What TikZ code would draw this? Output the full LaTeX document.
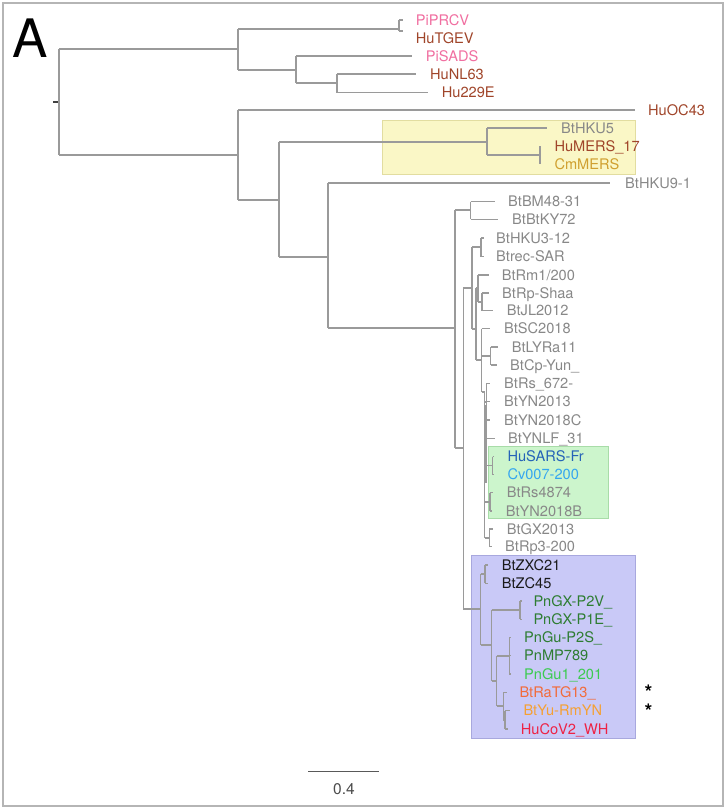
\documentclass[tikz,border=0pt]{standalone}
\usepackage{fontspec}
\setmainfont{TeX Gyre Heros}
\definecolor{brc}{HTML}{9A9A9A}
\definecolor{framec}{HTML}{B5B5B5}
\definecolor{cpink}{HTML}{F06EA0}
\definecolor{cbrown}{HTML}{A0452A}
\definecolor{cgold}{HTML}{D0A030}
\definecolor{cgray}{HTML}{888888}
\definecolor{cblue}{HTML}{2563B8}
\definecolor{clblue}{HTML}{35A6F0}
\definecolor{cblack}{HTML}{1A1A1A}
\definecolor{cdgreen}{HTML}{2E7D32}
\definecolor{clgreen}{HTML}{3CCB50}
\definecolor{corred}{HTML}{F26B3A}
\definecolor{corange}{HTML}{F5A033}
\definecolor{cred}{HTML}{EE2244}
\definecolor{yfill}{HTML}{FAF7C6}
\definecolor{ydraw}{HTML}{E2DDA0}
\definecolor{gfill}{HTML}{CCF5CC}
\definecolor{gdraw}{HTML}{A8DCA8}
\definecolor{bfill}{HTML}{C9C9F7}
\definecolor{bdraw}{HTML}{A8A8DE}
\newcommand\hbr[3]{\draw[br] (#1,#3) -- (#2,#3);}
\newcommand\vbr[3]{\draw[br] (#1,#2) -- (#1,#3);}
\newcommand\leaf[5]{\node[lab,text=#4] (#5) at (#1,#2+5.2) {#3};}
\begin{document}
\begin{tikzpicture}[x=1pt,y=-1pt,
  br/.style={draw=brc, line width=1.3pt},
  lab/.style={anchor=base west, inner sep=0pt, font=\fontsize{14.6}{16}\selectfont},
  hlbox/.style={line width=0.8pt},
  star/.style={inner sep=0pt, font=\fontsize{20}{20}\selectfont\bfseries},
]
\useasboundingbox (0,0) rectangle (726,812);
\draw[framec, line width=1.5pt] (3,3) rectangle (723,806);
\node[anchor=base west, inner sep=0pt, font=\fontsize{53}{60}\selectfont] (panelA) at (12,57) {A};
% highlight boxes
\draw[hlbox, fill=yfill, draw=ydraw] (382.7,120) rectangle (635,174);
\draw[hlbox, fill=gfill, draw=gdraw] (488.3,446.7) rectangle (608,518.3);
\draw[hlbox, fill=bfill, draw=bdraw] (471,555) rectangle (635,738.3);
% root
\draw[draw=black!75, line width=1.3pt] (53,102) -- (59,102);
\vbr{59}{49}{155}
\hbr{59}{238}{49}
\vbr{238}{29}{70}
\hbr{238}{399}{29}
\vbr{399}{20}{31}
\hbr{399}{403}{20}
\hbr{399}{403}{31}
\hbr{238}{296}{70}
\vbr{296}{56}{83}
\hbr{296}{412}{56}
\hbr{296}{337}{83}
\vbr{337}{74}{92.7}
\hbr{337}{416}{74}
\hbr{337}{428}{92.7}
\hbr{59}{238}{155}
\vbr{238}{110}{200}
\hbr{238}{635}{110}
\hbr{238}{279}{200}
\vbr{279}{142}{257}
\hbr{279}{487}{142}
\vbr{487}{128}{155}
\hbr{487}{547}{128}
\hbr{487}{540}{155}
\vbr{540}{146}{164}
\hbr{279}{328}{257}
\vbr{328}{183}{328}
\hbr{328}{610}{183}
\hbr{328}{455}{328}
\vbr{455}{210}{448}
\hbr{455}{470.7}{210}
\vbr{470.7}{201.7}{219.3}
\hbr{470.7}{495}{201.7}
\hbr{470.7}{498}{219.3}
\hbr{455}{463.3}{448}
\vbr{463.3}{288}{609}
\hbr{463.3}{472}{288}
\vbr{472}{247}{329}
\hbr{472}{481}{247}
\vbr{481}{238}{256.7}
\hbr{481}{484}{238}
\hbr{481}{484}{256.7}
\hbr{472}{476}{329}
\vbr{476}{288}{360}
\hbr{476}{478}{288}
\vbr{478}{275}{302}
\hbr{478}{489}{275}
\hbr{478}{482}{302}
\vbr{482}{293}{310.7}
\hbr{482}{489}{293}
\hbr{482}{493}{310.7}
\hbr{476}{481.7}{360}
\vbr{481.7}{328.5}{392}
\hbr{481.7}{490}{328.5}
\hbr{481.7}{490.7}{356}
\vbr{490.7}{347}{365}
\hbr{490.7}{498}{347}
\hbr{490.7}{497}{365}
\hbr{481.7}{484.5}{392}
\vbr{484.5}{392}{538}
\draw[br, line width=2.6pt] (485.6,405) -- (485.6,483);
\hbr{484.5}{486.7}{402}
\vbr{486.7}{383.3}{420}
\hbr{486.7}{490}{383.3}
\hbr{486.7}{490}{401.7}
\hbr{486.7}{490}{420}
\hbr{484.5}{495}{438.3}
\hbr{484.5}{492.5}{465.6}
\vbr{492.5}{456.7}{474.5}
\hbr{492.5}{494}{456.7}
\hbr{492.5}{494}{474.5}
\hbr{484.5}{490}{502}
\vbr{490}{492.7}{511}
\hbr{490}{493}{492.7}
\hbr{490}{492}{511}
\hbr{484.5}{489.3}{538}
\vbr{489.3}{529}{546.7}
\hbr{489.3}{493}{529}
\hbr{489.3}{492}{546.7}
% SARS-CoV-2 clade
\hbr{463.3}{480.7}{609}
\vbr{480.7}{574}{645}
\hbr{480.7}{485}{574}
\vbr{485}{565}{583.3}
\hbr{485}{488}{565}
\hbr{485}{488}{583.3}
\hbr{480.7}{491.7}{645}
\vbr{491.7}{610}{681}
\hbr{491.7}{520}{610}
\vbr{520}{601}{619.3}
\hbr{520}{521.5}{601}
\hbr{520}{521.5}{619.3}
\hbr{491.7}{496.7}{681}
\vbr{496.7}{656}{706}
\hbr{496.7}{509.3}{656}
\vbr{509.3}{637.5}{674}
\hbr{509.3}{511}{637.5}
\hbr{509.3}{511}{655.7}
\hbr{509.3}{511}{674}
\hbr{496.7}{503.3}{706}
\vbr{503.3}{692.3}{720}
\hbr{503.3}{507}{692.3}
\hbr{503.3}{505}{720}
\vbr{505}{710.7}{729}
\hbr{505}{510}{710.7}
\hbr{505}{508}{729}
% labels
\leaf{415.7}{20}{PiPRCV}{cpink}{l1}
\leaf{415.7}{38}{HuTGEV}{cbrown}{l2}
\leaf{425.7}{56}{PiSADS}{cpink}{l3}
\leaf{430}{74}{HuNL63}{cbrown}{l4}
\leaf{441.7}{92.7}{Hu229E}{cbrown}{l5}
\leaf{648}{110}{HuOC43}{cbrown}{l6}
\leaf{561}{128}{BtHKU5}{cgray}{l7}
\leaf{554.3}{146}{HuMERS\_17}{cbrown}{l8}
\leaf{554.3}{164}{CmMERS}{cgold}{l9}
\leaf{625}{183}{BtHKU9-1}{cgray}{l10}
\leaf{508}{201.7}{BtBM48-31}{cgray}{l11}
\leaf{512}{219.3}{BtBtKY72}{cgray}{l12}
\leaf{496}{238}{BtHKU3-12}{cgray}{l13}
\leaf{496}{256.7}{Btrec-SAR}{cgray}{l14}
\leaf{501.7}{275}{BtRm1/200}{cgray}{l15}
\leaf{502}{293}{BtRp-Shaa}{cgray}{l16}
\leaf{506.7}{310.7}{BtJL2012}{cgray}{l17}
\leaf{504}{328.5}{BtSC2018}{cgray}{l18}
\leaf{511.7}{347}{BtLYRa11}{cgray}{l19}
\leaf{510}{365}{BtCp-Yun\_}{cgray}{l20}
\leaf{504}{383.3}{BtRs\_672-}{cgray}{l21}
\leaf{504}{401.7}{BtYN2013}{cgray}{l22}
\leaf{504}{420}{BtYN2018C}{cgray}{l23}
\leaf{508}{438.3}{BtYNLF\_31}{cgray}{l24}
\leaf{507.3}{456.7}{HuSARS-Fr}{cblue}{l25}
\leaf{507.3}{474.5}{Cv007-200}{clblue}{l26}
\leaf{506.7}{492.7}{BtRs4874}{cgray}{l27}
\leaf{505.7}{511}{BtYN2018B}{cgray}{l28}
\leaf{506.7}{529}{BtGX2013}{cgray}{l29}
\leaf{505}{546.7}{BtRp3-200}{cgray}{l30}
\leaf{501.7}{565}{BtZXC21}{cblack}{l31}
\leaf{501.7}{583.3}{BtZC45}{cblack}{l32}
\leaf{533.3}{601}{PnGX-P2V\_}{cdgreen}{l33}
\leaf{533.3}{619.3}{PnGX-P1E\_}{cdgreen}{l34}
\leaf{524}{637.5}{PnGu-P2S\_}{cdgreen}{l35}
\leaf{524}{655.7}{PnMP789}{cdgreen}{l36}
\leaf{524}{674}{PnGu1\_201}{clgreen}{l37}
\leaf{519.3}{692.3}{BtRaTG13\_}{corred}{l38}
\leaf{523.3}{710.7}{BtYu-RmYN}{corange}{l39}
\leaf{520.7}{729}{HuCoV2\_WH}{cred}{l40}
% asterisks
\node[star] (st1) at (648.5,692.3) {*};
\node[star] (st2) at (648.5,711) {*};
% scale bar
\coordinate (sbL) at (308.3,771.7);
\coordinate (sbR) at (379,771.7);
\draw[draw=black!65, line width=1.5pt] (sbL) -- (sbR);
\node[inner sep=0pt, text=black!70, font=\fontsize{15.5}{16}\selectfont] (sbt) at (344,789.3) {0.4};
\end{tikzpicture}
\end{document}
